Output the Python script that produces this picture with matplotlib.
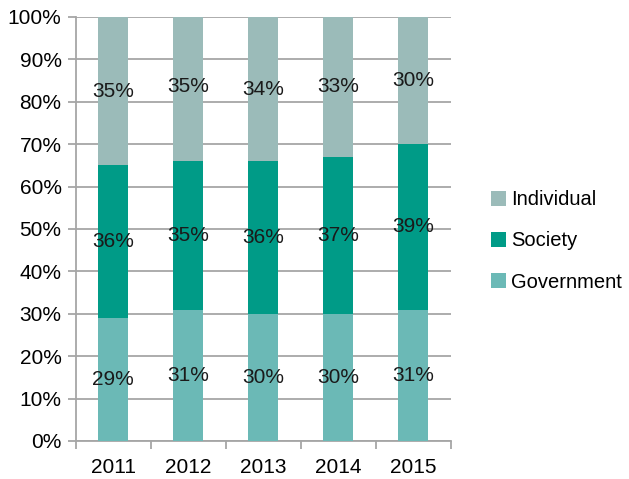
import matplotlib
matplotlib.use("Agg")
import matplotlib.pyplot as plt
import numpy as np
from matplotlib.ticker import FixedLocator, PercentFormatter

years = ["2011", "2012", "2013", "2014", "2015"]
government = [29, 31, 30, 30, 31]
society = [36, 35, 36, 37, 39]
individual = [35, 35, 34, 33, 30]

series = [
    ("Government", government, "#6bb9b6"),
    ("Society", society, "#009b87"),
    ("Individual", individual, "#9bbbb9"),
]

plt.rcParams["font.family"] = ["Liberation Sans", "DejaVu Sans"]
FS = 15

fig = plt.figure(figsize=(6.29, 4.79), dpi=100)
ax = fig.add_axes([75.5 / 629, 1 - 441 / 479, 375 / 629, 424 / 479])

x = np.arange(len(years))
bottom = np.zeros(len(years))
handles = {}
for name, vals, color in series:
    vals = np.array(vals, dtype=float)
    bars = ax.bar(x, vals, 0.4, bottom=bottom, color=color, zorder=3, label=name)
    handles[name] = bars
    for xi, b, v in zip(x, bottom, vals):
        ax.text(xi, b + v / 2, f"{int(v)}%", ha="center", va="center",
                fontsize=FS, color="#1a1a1a", zorder=4)
    bottom += vals

ax.set_xlim(-0.5, len(years) - 0.5)
ax.set_ylim(0, 100)
ax.set_yticks(np.arange(0, 101, 10))
ax.yaxis.set_major_formatter(PercentFormatter(decimals=0))
ax.set_xticks(x)
ax.set_xticklabels(years)
ax.xaxis.set_minor_locator(FixedLocator(np.arange(-0.5, len(years), 1)))

ax.grid(axis="y", color="#a6a6a6", linewidth=1.3, zorder=0)
for side in ("top", "right"):
    ax.spines[side].set_visible(False)
for side in ("left", "bottom"):
    ax.spines[side].set_color("#a6a6a6")
    ax.spines[side].set_linewidth(1.3)

ax.tick_params(axis="y", length=6, width=1.3, color="#a6a6a6", labelsize=FS, pad=4)
ax.tick_params(axis="x", which="major", length=0, labelsize=FS, pad=12)
ax.tick_params(axis="x", which="minor", length=6, width=1.3, color="#a6a6a6")

order = ["Individual", "Society", "Government"]
leg = fig.legend([handles[n] for n in order], order, loc="center left",
                 bbox_to_anchor=(491 / 629, 1 - 241 / 479), frameon=False,
                 fontsize=14.5, handlelength=0.75, handleheight=0.75,
                 handletextpad=0.25, labelspacing=1.1, borderpad=0,
                 borderaxespad=0)

fig.savefig("out.png", dpi=100)
